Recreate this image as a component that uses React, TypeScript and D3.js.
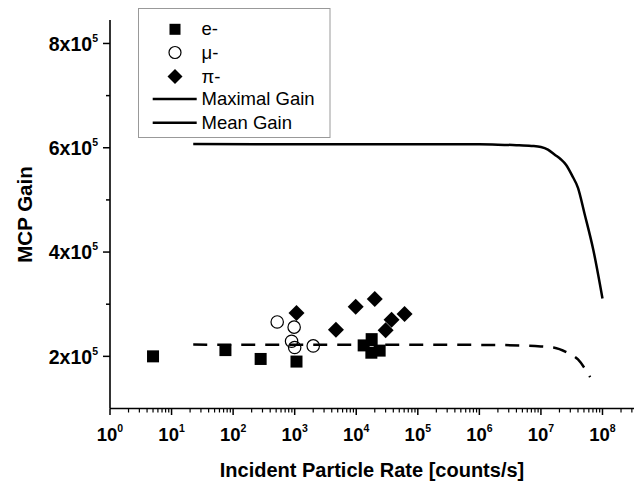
import React from "react";
import * as d3 from "d3";

const eRate = [5, 75, 280, 1070, 13200, 17800, 17600, 24000];
const eGain = [2.0e5, 2.12e5, 1.95e5, 1.9e5, 2.21e5, 2.33e5, 2.07e5, 2.11e5];
const muRate = [520, 980, 890, 1000, 2000];
const muGain = [2.66e5, 2.56e5, 2.29e5, 2.17e5, 2.2e5];
const piRate = [1070, 4680, 9800, 20000, 30000, 37500, 61000];
const piGain = [2.83e5, 2.51e5, 2.95e5, 3.1e5, 2.5e5, 2.7e5, 2.81e5];
const maxRate = [22.5, 1e6, 2e6, 4e6, 7e6, 1e7, 1.3e7, 1.66e7, 2.1e7, 2.57e7, 3.2e7, 4e7, 5.1e7, 7.1e7, 1e8];
const maxGain = [6.07e5, 6.065e5, 6.06e5, 6.05e5, 6.035e5, 6.015e5, 5.965e5, 5.87e5, 5.78e5, 5.67e5, 5.47e5, 5.23e5, 4.74e5, 4.04e5, 3.11e5];
const meanRate = [22.5, 1e6, 4.5e6, 1e7, 1.6e7, 2.6e7, 4e7, 6.3e7];
const meanGain = [2.225e5, 2.22e5, 2.21e5, 2.19e5, 2.17e5, 2.08e5, 1.94e5, 1.6e5];

const xMajorExp = [0, 1, 2, 3, 4, 5, 6, 7, 8];
const yMajor = [2e5, 4e5, 6e5, 8e5];
const yMinor = [3e5, 5e5, 7e5];
const legendLabels = ["e-", "\u03bc-", "\u03c0-", "Maximal Gain", "Mean Gain"];

const FONT = "'Liberation Sans', Arial, sans-serif";

export default function App() {
  const x = d3.scaleLog().domain([1, 3.25e8]).range([110, 634]);
  const y = d3.scaleLinear().domain([1e5, 8.45e5]).range([408.5, 20]);
  const x0 = 110;
  const yAxis = 408.5;

  const line = d3
    .line<[number, number]>()
    .x((d) => x(d[0]))
    .y((d) => y(d[1]))
    .curve(d3.curveMonotoneX);

  const maxPts = maxRate.map((r, i) => [r, maxGain[i]] as [number, number]);
  const meanPts = meanRate.map((r, i) => [r, meanGain[i]] as [number, number]);

  const xMinor: number[] = [];
  for (let e = 0; e <= 8; e++) {
    for (let m = 2; m <= 9; m++) {
      const v = m * Math.pow(10, e);
      if (v <= 3.25e8) xMinor.push(v);
    }
  }

  const sq = 12;
  const dh = 8;
  const diamond = (cx: number, cy: number, h: number) =>
    `M${cx},${cy - h}L${cx + h},${cy}L${cx},${cy + h}L${cx - h},${cy}Z`;

  const legendX = 175;
  const legendY = [29.3, 52.5, 76.5, 99, 122.7];

  return (
    <svg
      width={642}
      height={483}
      style={{ position: "absolute", left: 0, top: 0, background: "#fff" }}
      fontFamily={FONT}
    >
      <rect x={0} y={0} width={642} height={483} fill="#fff" />
      {/* axes */}
      <line x1={x0} x2={x0} y1={20} y2={yAxis} stroke="#000" strokeWidth={1.6} />
      <line x1={x0} x2={634} y1={yAxis} y2={yAxis} stroke="#000" strokeWidth={1.6} />
      {yMajor.map((v) => (
        <g key={"ym" + v}>
          <line x1={x0 - 7} x2={x0} y1={y(v)} y2={y(v)} stroke="#000" strokeWidth={1.5} />
          <text x={98} y={y(v) + 7.4} textAnchor="end" fontWeight="bold" fontSize={19.5}>
            {`${v / 1e5}x10`}
            <tspan dy={-9} fontSize={10.5}>5</tspan>
          </text>
        </g>
      ))}
      {yMinor.map((v) => (
        <line key={"yn" + v} x1={x0 - 4} x2={x0} y1={y(v)} y2={y(v)} stroke="#000" strokeWidth={1.5} />
      ))}
      {xMinor.map((v) => (
        <line key={"xn" + v} x1={x(v)} x2={x(v)} y1={yAxis} y2={yAxis + 4} stroke="#000" strokeWidth={1.2} />
      ))}
      {xMajorExp.map((e) => {
        const px = x(Math.pow(10, e));
        return (
          <g key={"xm" + e}>
            <line x1={px} x2={px} y1={yAxis} y2={yAxis + 6.5} stroke="#000" strokeWidth={1.5} />
            <text x={px} y={441} textAnchor="middle" fontWeight="bold" fontSize={18.5}>
              10
              <tspan dy={-9.5} fontSize={10.5}>{e}</tspan>
            </text>
          </g>
        );
      })}
      {/* axis titles */}
      <text x={372} y={477} textAnchor="middle" fontWeight="bold" fontSize={20}>
        Incident Particle Rate [counts/s]
      </text>
      <text
        transform={`translate(32,214.5) rotate(-90)`}
        textAnchor="middle"
        fontWeight="bold"
        fontSize={20.5}
      >
        MCP Gain
      </text>

      {/* lines */}
      <path d={line(maxPts) || ""} fill="none" stroke="#000" strokeWidth={2.5} />
      <path d={line(meanPts) || ""} fill="none" stroke="#000" strokeWidth={2.5} strokeDasharray="14,10" />

      {/* markers */}
      {eRate.map((r, i) => (
        <rect key={"e" + i} x={x(r) - sq / 2} y={y(eGain[i]) - sq / 2} width={sq} height={sq} fill="#000" />
      ))}
      {muRate.map((r, i) => (
        <circle key={"m" + i} cx={x(r)} cy={y(muGain[i])} r={6.2} fill="none" stroke="#000" strokeWidth={1.2} />
      ))}
      {piRate.map((r, i) => (
        <path key={"p" + i} d={diamond(x(r), y(piGain[i]), dh)} fill="#000" />
      ))}

      {/* legend */}
      <rect x={138.5} y={8.5} width={191.5} height={129} fill="#fff" stroke="#999" strokeWidth={1} />
      <rect x={legendX - 5.5} y={legendY[0] - 5.5} width={11} height={11} fill="#000" />
      <circle cx={legendX} cy={legendY[1]} r={6} fill="none" stroke="#000" strokeWidth={1.2} />
      <path d={diamond(legendX, legendY[2], 7.5)} fill="#000" />
      <line x1={152.7} x2={196.7} y1={legendY[3]} y2={legendY[3]} stroke="#000" strokeWidth={2.5} />
      <line x1={152.7} x2={196.7} y1={legendY[4]} y2={legendY[4]} stroke="#000" strokeWidth={2.5} />
      {legendLabels.map((t, i) => (
        <text key={t} x={201.5} y={legendY[i] + 6} fontSize={18.5}>
          {t}
        </text>
      ))}
    </svg>
  );
}
